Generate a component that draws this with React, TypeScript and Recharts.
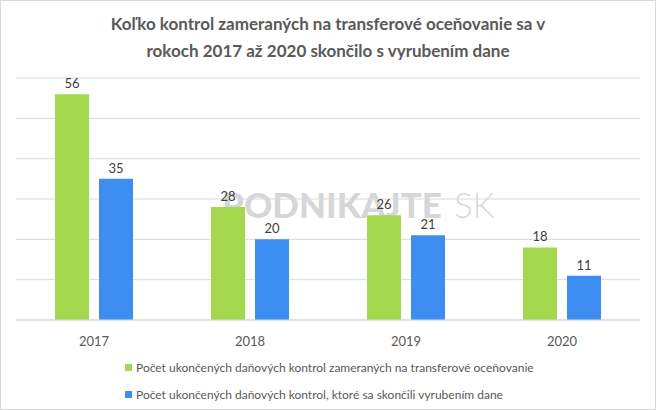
import { BarChart, Bar, XAxis, YAxis, CartesianGrid, LabelList } from 'recharts'

const years = ['2017', '2018', '2019', '2020']
const transferControls = [56, 28, 26, 18]
const taxAssessed = [35, 20, 21, 11]
const yTicks = [0, 10, 20, 30, 40, 50, 60]

const seriesNames = [
  'Počet ukončených daňových kontrol zameraných na transferové oceňovanie',
  'Počet ukončených daňových kontrol, ktoré sa skončili vyrubením dane',
]
const seriesColors = ['#A3D84F', '#3E8EF2']

const data = years.map((year, i) => ({
  year,
  transfer: transferControls[i],
  assessed: taxAssessed[i],
}))

const font = 'Lato, "Open Sans", sans-serif'

export default function App() {
  return (
    <div
      style={{
        position: 'absolute',
        left: 0,
        top: 0,
        width: 656,
        height: 410,
        boxSizing: 'border-box',
        border: '1px solid #d9d9d9',
        background: '#fff',
        fontFamily: font,
        overflow: 'hidden',
      }}
    >
      {/* Title */}
      <div
        style={{
          position: 'absolute',
          left: 0,
          top: 9,
          width: 654,
          textAlign: 'center',
          fontSize: 17,
          fontWeight: 700,
          lineHeight: '27px',
          color: '#595959',
        }}
      >
        Koľko kontrol zameraných na transferové oceňovanie sa v
        <br />
        rokoch 2017 až 2020 skončilo s vyrubením dane
      </div>

      {/* watermark, sits behind the bars */}
      <div
        style={{
          position: 'absolute',
          left: 221,
          top: 182,
          fontSize: 35,
          fontWeight: 900,
          color: 'rgba(110,110,120,0.3)',
          whiteSpace: 'nowrap',
        }}
      >
        PODNIKAJTE
        <span style={{ fontWeight: 300, marginLeft: 12, color: 'rgba(110,110,120,0.28)' }}>SK</span>
      </div>

      <div style={{ position: 'absolute', left: -1, top: -1 }}>
        <BarChart
          width={656}
          height={350}
          data={data}
          margin={{ top: 78, right: 16, left: 16, bottom: 0 }}
          barGap={10}
          barSize={34}
        >
          <CartesianGrid vertical={false} stroke="#d9d9d9" />
          <XAxis
            dataKey="year"
            height={30}
            axisLine={{ stroke: '#d9d9d9' }}
            tickLine={false}
            tickMargin={11}
            tick={{ fill: '#595959', fontSize: 13, fontFamily: font }}
          />
          <YAxis hide domain={[0, 60]} ticks={yTicks} />
          <Bar dataKey="transfer" fill={seriesColors[0]} isAnimationActive={false}>
            <LabelList
              dataKey="transfer"
              position="top"
              offset={6}
              fill="#404040"
              fontSize={13}
              fontFamily={font}
            />
          </Bar>
          <Bar dataKey="assessed" fill={seriesColors[1]} isAnimationActive={false}>
            <LabelList
              dataKey="assessed"
              position="top"
              offset={6}
              fill="#404040"
              fontSize={13}
              fontFamily={font}
            />
          </Bar>
        </BarChart>
      </div>

      {/* Legend */}
      <div style={{ position: 'absolute', left: 124, top: 353 }}>
        {seriesNames.map((name, i) => (
          <div
            key={name}
            style={{
              display: 'flex',
              alignItems: 'center',
              height: 27,
              fontSize: 12,
              color: '#595959',
              whiteSpace: 'nowrap',
            }}
          >
            <span
              style={{
                display: 'inline-block',
                width: 7,
                height: 7,
                background: seriesColors[i],
                marginRight: 4,
              }}
            />
            {name}
          </div>
        ))}
      </div>
    </div>
  )
}
